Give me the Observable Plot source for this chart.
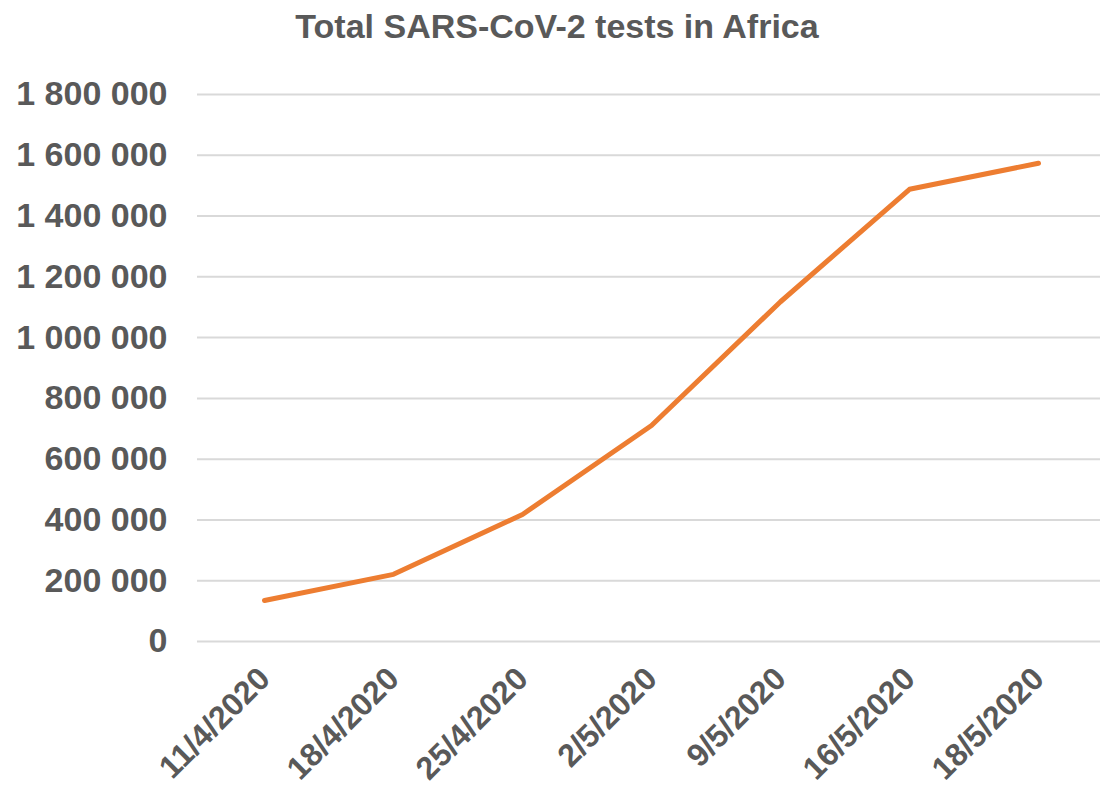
<!DOCTYPE html>
<html>
<head>
<meta charset="utf-8">
<script src="https://cdn.jsdelivr.net/npm/d3@7"></script>
<script src="https://cdn.jsdelivr.net/npm/@observablehq/plot@0.6"></script>
<style>
  html, body { margin: 0; padding: 0; background: #fff; overflow: hidden; }
  #title {
    width: 1100px; height: 44px; line-height: 52px;
    text-align: center; box-sizing: border-box; padding-left: 14px;
    font-family: "Liberation Sans", Arial, sans-serif; font-weight: bold;
    font-size: 34px; color: #595959; white-space: nowrap; overflow: visible;
  }
  svg { display: block; overflow: visible; }
</style>
</head>
<body>
<div id="title">Total SARS-CoV-2 tests in Africa</div>
<div id="chart"></div>
<script>
const dates = ["11/4/2020", "18/4/2020", "25/4/2020", "2/5/2020", "9/5/2020", "16/5/2020", "18/5/2020"];
const tests = [135000, 221000, 418000, 711000, 1118000, 1488000, 1574000];
const yTicks = [0, 200000, 400000, 600000, 800000, 1000000, 1200000, 1400000, 1600000, 1800000];

const data = dates.map((d, i) => ({date: d, tests: tests[i]}));
const fmt = d3.formatLocale({decimal: ".", thousands: " ", grouping: [3], currency: ["", ""]}).format(",");

const chart = Plot.plot({
  width: 1100,
  height: 749,
  marginLeft: 197,
  marginRight: -4,
  marginTop: 50,
  marginBottom: 152,
  style: {
    fontFamily: "'Liberation Sans', Arial, sans-serif",
    fontWeight: "bold",
    color: "#595959",
    background: "#fff"
  },
  x: {type: "point", domain: dates, padding: 0.5},
  y: {domain: [0, 1800000]},
  marks: [
    Plot.ruleY(yTicks, {stroke: "#d9d9d9", strokeWidth: 2}),
    Plot.axisY({ticks: yTicks, tickFormat: fmt, tickSize: 0, tickPadding: 30, fontSize: 34, label: null}),
    Plot.axisX({tickRotate: -45, tickSize: 0, tickPadding: 32, fontSize: 32, label: null}),
    Plot.line(data, {x: "date", y: "tests", stroke: "#ed7d31", strokeWidth: 5, strokeLinecap: "round", strokeLinejoin: "round"})
  ]
});
document.getElementById("chart").appendChild(chart);
</script>
</body>
</html>
